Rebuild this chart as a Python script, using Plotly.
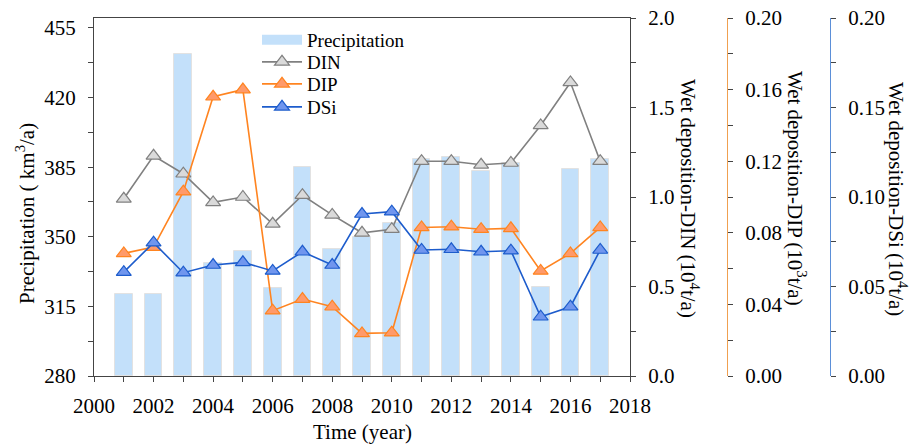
import plotly.graph_objects as go

# Annual series, 2001-2017
years = list(range(2001, 2018))
precipitation = [321, 321, 442, 337, 343, 324, 385, 344, 350, 357,
                 389, 390, 383, 387, 325, 384, 389]           # km3/a
din = [0.99, 1.23, 1.13, 0.97, 1.00, 0.85, 1.01, 0.90, 0.80, 0.82,
       1.20, 1.20, 1.18, 1.19, 1.40, 1.64, 1.20]               # 10^4 t/a
dip = [0.0685, 0.072, 0.103, 0.156, 0.160, 0.0365, 0.043, 0.0387, 0.0238, 0.0242,
       0.083, 0.0834, 0.082, 0.0825, 0.0587, 0.0685, 0.083]    # 10^3 t/a
dsi = [0.058, 0.0745, 0.0577, 0.062, 0.0635, 0.0587, 0.0694, 0.062, 0.0905, 0.0918,
       0.0704, 0.0708, 0.0694, 0.070, 0.0331, 0.0387, 0.0704]  # 10^4 t/a

W, H = 919, 447
FONT = "Liberation Serif, Times New Roman, serif"
AX = "#444444"

# plot-area geometry in pixels
x_left, x_right = 94, 630
y_top, y_bot = 18, 376
dom_x = [x_left / W, x_right / W]
dom_y = [(H - y_bot) / H, (H - y_top) / H]

fig = go.Figure()

fig.add_trace(go.Bar(
    x=years, y=[p - 280 for p in precipitation], base=280, width=0.6,
    marker=dict(color="#c3e0fa", line=dict(color="#e2e2e2", width=1)),
    name="Precipitation", showlegend=False, yaxis="y", xaxis="x"))

# legend swatch for the bars (wide rectangle)
fig.add_trace(go.Scatter(
    x=[None], y=[None], mode="lines", name="Precipitation", legend="legend",
    line=dict(color="#c3e0fa", width=11), yaxis="y"))


def series(vals, name, axis, line_c, fill_c, legend):
    fig.add_trace(go.Scatter(
        x=years, y=vals, name=name, yaxis=axis, mode="lines+markers",
        legend=legend,
        line=dict(color=line_c, width=1.6),
        marker=dict(symbol="triangle-up", size=13, color=fill_c,
                    line=dict(color=line_c, width=1.2))))


series(din, "DIN", "y2", "#808080", "#dadada", "legend2")
series(dip, "DIP", "y3", "#ff8420", "#ff9a6a", "legend3")
series(dsi, "DSi", "y4", "#1d5ccc", "#7096ee", "legend4")


def tfont():
    return dict(family=FONT, size=21, color="black")


def minor(step):
    return dict(dtick=step, ticks="outside", ticklen=5, tickcolor=AX,
                showgrid=False)


def yaxis_style(linecolor=AX):
    return dict(showline=True, linecolor=linecolor, linewidth=1.3,
                ticks="outside", ticklen=5, tickcolor=AX, tickfont=tfont(),
                showgrid=False, zeroline=False, ticklabelstandoff=8,
                automargin=False)


def legend_row(y_px):
    return dict(x=257 / W, y=1 - y_px / H, xanchor="left", yanchor="middle",
                bgcolor="rgba(0,0,0,0)", borderwidth=0,
                font=dict(family=FONT, size=19, color="black"),
                itemwidth=40)


fig.update_layout(
    width=W, height=H,
    margin=dict(l=0, r=0, t=0, b=0, autoexpand=False),
    plot_bgcolor="white", paper_bgcolor="white",
    font=dict(family=FONT, color="black", size=21),
    bargap=0,
    xaxis=dict(domain=dom_x, range=[2000, 2018], dtick=2, tick0=2000,
               showline=True, mirror=True, linecolor=AX, linewidth=1.3,
               ticks="outside", ticklen=5, tickcolor=AX, tickfont=tfont(),
               showgrid=False, zeroline=False, ticklabelstandoff=6,
               automargin=False, minor=minor(1)),
    yaxis=dict(domain=dom_y, range=[280, 460], tick0=280, dtick=35,
               minor=minor(17.5), **yaxis_style()),
    yaxis2=dict(overlaying="y", side="right", anchor="x", range=[0, 2],
                dtick=0.5, tickformat=".1f", minor=minor(0.25),
                **yaxis_style()),
    yaxis3=dict(overlaying="y", side="right", anchor="free",
                position=727 / W, range=[0, 0.2], dtick=0.04,
                tickformat=".2f", minor=minor(0.02),
                **yaxis_style("#f0a050")),
    yaxis4=dict(overlaying="y", side="right", anchor="free",
                position=830 / W, range=[0, 0.2], dtick=0.05,
                tickformat=".2f", minor=minor(0.025),
                **yaxis_style("#5b8fd8")),
    legend=legend_row(40),
    legend2=legend_row(62),
    legend3=legend_row(84),
    legend4=legend_row(107),
    showlegend=True,
)

title_font = dict(family=FONT, size=21, color="black")
annots = [
    dict(x=25, y=214, text="Precipitation ( km<sup>3</sup>/a)", textangle=-90),
    dict(x=362, y=432, text="Time (year)", textangle=0),
    dict(x=690, y=198, text="Wet deposition-DIN (10<sup>4</sup>t/a)", textangle=90),
    dict(x=797, y=188, text="Wet deposition-DIP (10<sup>3</sup>t/a)", textangle=90),
    dict(x=898, y=199, text="Wet deposition-DSi (10<sup>4</sup>t/a)", textangle=90),
]
for a in annots:
    fig.add_annotation(x=a["x"] / W, y=1 - a["y"] / H, xref="paper", yref="paper",
                       text=a["text"], textangle=a["textangle"], showarrow=False,
                       xanchor="center", yanchor="middle", font=title_font)

fig.write_html("out.html")
